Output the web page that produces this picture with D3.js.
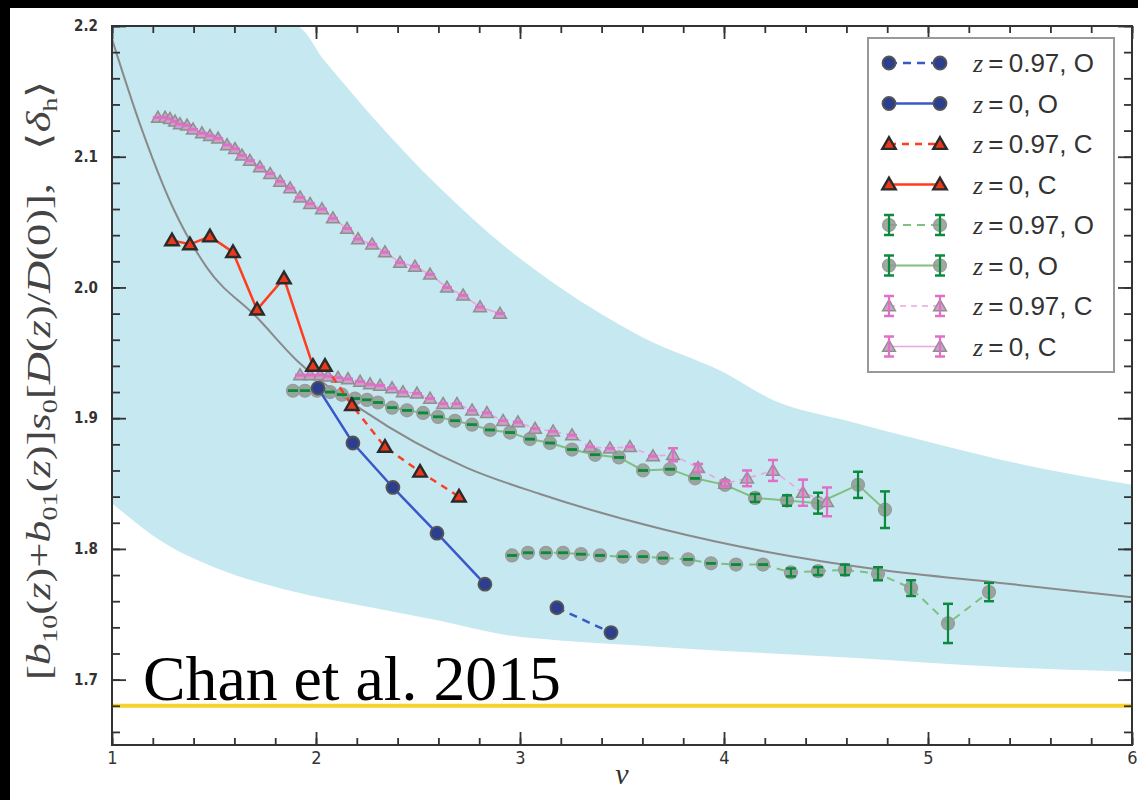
<!DOCTYPE html>
<html>
<head>
<meta charset="utf-8">
<script src="https://cdn.jsdelivr.net/npm/d3@7"></script>
<style>
  body { margin: 0; background: #fff; }
  svg { display: block; }
</style>
</head>
<body>
<svg id="chart" width="1138" height="800"></svg>
<script>
// axis ticks
const xTicks = [1, 2, 3, 4, 5, 6];
const yTicks = [1.7, 1.8, 1.9, 2.0, 2.1, 2.2];

// theory curve <delta_h>
const curveNu  = [1.0, 1.137, 1.299, 1.466, 1.711, 1.907, 2.23, 2.74, 3.098, 3.7, 4.2, 4.765, 5.353, 6.0];
const curveVal = [2.19, 2.125, 2.061, 2.015, 1.977, 1.944, 1.906, 1.862, 1.842, 1.815, 1.798, 1.784, 1.774, 1.763];

// shaded band
const bandNu = [1.0, 1.25, 1.5, 1.775, 1.9, 2.044, 2.279, 2.608, 2.936, 3.196, 3.6, 4.0, 4.24, 4.603, 5.0, 5.451, 6.0];
const bandHi = [2.2, 2.2, 2.2, 2.2, 2.2, 2.173, 2.13, 2.076, 2.03, 2.0, 1.962, 1.935, 1.914, 1.898, 1.882, 1.865, 1.849];
const bandLo = [1.835, 1.805, 1.786, 1.772, 1.767, 1.762, 1.755, 1.745, 1.734, 1.730, 1.726, 1.722, 1.720, 1.717, 1.713, 1.709, 1.706];

const deltaC = 1.68;

// z=0.97, O (blue dashed)
const nuO97 = [3.181, 3.446];
const valO97 = [1.755, 1.736];

// z=0, O (blue solid)
const nuO0 = [2.01, 2.181, 2.377, 2.593, 2.828];
const valO0 = [1.923, 1.881, 1.847, 1.812, 1.773];

// z=0.97, C (red dashed)
const nuC97 = [2.044, 2.176, 2.338, 2.51, 2.701];
const valC97 = [1.94, 1.91, 1.878, 1.859, 1.84];

// z=0, C (red solid)
const nuC0 = [1.294, 1.382, 1.48, 1.593, 1.711, 1.843, 1.985];
const valC0 = [2.036, 2.033, 2.039, 2.027, 1.983, 2.007, 1.94];

// z=0.97, O (green dashed, error bars)
const nuGO97 = [2.961, 3.039, 3.127, 3.211, 3.299, 3.392, 3.505, 3.603, 3.701, 3.824, 3.936, 4.059, 4.191, 4.328, 4.461, 4.593, 4.755, 4.917, 5.098, 5.299];
const valGO97 = [1.795, 1.797, 1.797, 1.797, 1.796, 1.795, 1.794, 1.794, 1.793, 1.792, 1.789, 1.788, 1.788, 1.782, 1.783, 1.784, 1.781, 1.77, 1.743, 1.767];
const errGO97 = [0, 0, 0, 0, 0, 0, 0, 0, 0, 0, 0, 0, 0, 0.003, 0.003, 0.004, 0.005, 0.006, 0.015, 0.007];

// z=0, O (green solid, error bars)
const nuGO0 = [1.887, 1.946, 2.005, 2.069, 2.127, 2.191, 2.25, 2.304, 2.373, 2.446, 2.525, 2.598, 2.681, 2.765, 2.853, 2.951, 3.049, 3.147, 3.255, 3.368, 3.485, 3.603, 3.735, 3.858, 4.005, 4.152, 4.309, 4.461, 4.657, 4.789];
const valGO0 = [1.921, 1.921, 1.921, 1.92, 1.918, 1.915, 1.914, 1.912, 1.908, 1.906, 1.904, 1.901, 1.898, 1.895, 1.891, 1.889, 1.884, 1.881, 1.876, 1.872, 1.87, 1.86, 1.861, 1.854, 1.849, 1.839, 1.837, 1.835, 1.849, 1.83];
const errGO0 = [0, 0, 0, 0, 0, 0, 0, 0, 0, 0, 0, 0, 0, 0, 0, 0, 0, 0, 0, 0, 0, 0, 0, 0, 0, 0.003, 0.004, 0.008, 0.01, 0.014];

// z=0.97, C (pink dashed, error bars)
const nuGC97 = [1.922, 1.971, 2.02, 2.059, 2.108, 2.157, 2.216, 2.265, 2.314, 2.373, 2.426, 2.495, 2.559, 2.623, 2.691, 2.765, 2.838, 2.917, 2.99, 3.074, 3.162, 3.255, 3.343, 3.441, 3.539, 3.652, 3.75, 3.873, 4.005, 4.113, 4.24, 4.387, 4.505];
const valGC97 = [1.933, 1.933, 1.933, 1.932, 1.931, 1.93, 1.928, 1.926, 1.925, 1.923, 1.92, 1.919, 1.915, 1.911, 1.911, 1.906, 1.904, 1.898, 1.897, 1.892, 1.89, 1.887, 1.878, 1.877, 1.878, 1.871, 1.872, 1.862, 1.85, 1.854, 1.86, 1.843, 1.836];
const errGC97 = [0, 0, 0, 0, 0, 0, 0, 0, 0, 0, 0, 0, 0, 0, 0, 0, 0, 0, 0, 0, 0, 0, 0, 0, 0, 0, 0.005, 0.003, 0.002, 0.006, 0.008, 0.01, 0.011];

// z=0, C (pink solid)
const nuGC0 = [1.225, 1.26, 1.284, 1.309, 1.333, 1.368, 1.397, 1.441, 1.48, 1.52, 1.564, 1.603, 1.637, 1.676, 1.725, 1.775, 1.824, 1.873, 1.922, 1.971, 2.029, 2.083, 2.152, 2.206, 2.275, 2.338, 2.412, 2.485, 2.559, 2.642, 2.721, 2.804, 2.902];
const valGC0 = [2.13, 2.13, 2.129, 2.127, 2.125, 2.124, 2.121, 2.118, 2.116, 2.114, 2.109, 2.106, 2.101, 2.097, 2.092, 2.087, 2.081, 2.076, 2.069, 2.064, 2.06, 2.053, 2.045, 2.037, 2.033, 2.027, 2.019, 2.016, 2.01, 2.0, 1.994, 1.985, 1.98];
const errGC0 = nuGC0.map(() => 0);

const svg = d3.select("#chart");
const W = 1138, H = 800;
const pLeft = 112, pRight = 1132, pTop = 26, pBottom = 745;

const x = d3.scaleLinear().domain([1, 6]).range([pLeft, pRight]);
const y = d3.scaleLinear().domain([1.65, 2.2]).range([pBottom, pTop]);

svg.append("rect").attr("width", W).attr("height", H).attr("fill", "#fff");
// black strips of the scanned border
svg.append("rect").attr("x", 0).attr("y", 0).attr("width", W).attr("height", 8).attr("fill", "#000");
svg.append("rect").attr("x", 0).attr("y", 0).attr("width", 10).attr("height", H).attr("fill", "#000");

svg.append("clipPath").attr("id", "plotclip")
  .append("rect").attr("x", pLeft).attr("y", pTop).attr("width", pRight - pLeft).attr("height", pBottom - pTop);

const plot = svg.append("g").attr("clip-path", "url(#plotclip)");

// band
const band = bandNu.map((n, i) => ({ n, hi: bandHi[i], lo: bandLo[i] }));
plot.append("path")
  .datum(band)
  .attr("d", d3.area().x(d => x(d.n)).y0(d => y(d.lo)).y1(d => y(d.hi)).curve(d3.curveMonotoneX))
  .attr("fill", "#c6e8f0");

// theory curve
const curve = curveNu.map((n, i) => ({ n, v: curveVal[i] }));
plot.append("path")
  .datum(curve)
  .attr("d", d3.line().x(d => x(d.n)).y(d => y(d.v)).curve(d3.curveMonotoneX))
  .attr("fill", "none")
  .attr("stroke", "#8a8a8a")
  .attr("stroke-width", 2);

// delta_c line
plot.append("line")
  .attr("x1", x(1)).attr("x2", x(6))
  .attr("y1", y(deltaC)).attr("y2", y(deltaC))
  .attr("stroke", "#f6d22a")
  .attr("stroke-width", 4);

const styles = {
  blueDash:  { line: "#3a58c8", width: 2.5, dash: "8,6", shape: "circle", fill: "#2c3f8f", stroke: "#555" },
  blueSolid: { line: "#3a58c8", width: 2.5, dash: null, shape: "circle", fill: "#2c3f8f", stroke: "#555" },
  redDash:   { line: "#ff3c1e", width: 2.5, dash: "7,6", shape: "tri", fill: "#e8391c", stroke: "#2a2a2a", size: 78 },
  redSolid:  { line: "#ff3c1e", width: 2.5, dash: null, shape: "tri", fill: "#e8391c", stroke: "#2a2a2a", size: 78 },
  greenDash: { line: "#7fc07f", width: 2, dash: "8,6", shape: "gcircle", fill: "#8d9a90", stroke: "#9a9a9a", err: "#0b8a3c" },
  greenSolid:{ line: "#7fc07f", width: 2, dash: null, shape: "gcircle", fill: "#8d9a90", stroke: "#9a9a9a", err: "#0b8a3c" },
  pinkDash:  { line: "#e9a6e0", width: 1.6, dash: "6,5", shape: "ptri", fill: "#c9a3c6", stroke: "#8f8f8f", err: "#e06fc8", size: 70 },
  pinkSolid: { line: "#e9a6e0", width: 1.6, dash: null, shape: "ptri", fill: "#c9a3c6", stroke: "#8f8f8f", err: "#e06fc8", size: 70 }
};

const layer = svg.append("g");

function drawMarker(g, cx, cy, st) {
  if (st.shape === "circle") {
    g.append("circle").attr("cx", cx).attr("cy", cy).attr("r", 6.5)
      .attr("fill", st.fill).attr("stroke", st.stroke).attr("stroke-width", 1.8);
  } else if (st.shape === "gcircle") {
    g.append("circle").attr("cx", cx).attr("cy", cy).attr("r", 6.5)
      .attr("fill", st.fill).attr("fill-opacity", 0.85)
      .attr("stroke", st.stroke).attr("stroke-width", 1.2);
  } else {
    g.append("path")
      .attr("d", d3.symbol(d3.symbolTriangle, st.size)())
      .attr("transform", `translate(${cx},${cy + 1})`)
      .attr("fill", st.fill).attr("stroke", st.stroke)
      .attr("stroke-width", st.shape === "tri" ? 2.4 : 1.5);
  }
}

function drawErr(g, cx, cy0, cy1, color) {
  g.append("line").attr("x1", cx).attr("x2", cx).attr("y1", cy0).attr("y2", cy1)
    .attr("stroke", color).attr("stroke-width", 2.2);
  [cy0, cy1].forEach(cy => {
    g.append("line").attr("x1", cx - 5).attr("x2", cx + 5).attr("y1", cy).attr("y2", cy)
      .attr("stroke", color).attr("stroke-width", 2.5);
  });
}

function drawSeries(nu, val, err, st) {
  const pts = nu.map((n, i) => ({ n, v: val[i], e: err ? err[i] : 0 }));
  const g = layer.append("g");
  g.append("path")
    .datum(pts)
    .attr("d", d3.line().x(d => x(d.n)).y(d => y(d.v)))
    .attr("fill", "none")
    .attr("stroke", st.line)
    .attr("stroke-width", st.width)
    .attr("stroke-dasharray", st.dash);
  pts.forEach(d => {
    drawMarker(g, x(d.n), y(d.v), st);
    if (st.err) drawErr(g, x(d.n), y(d.v + d.e), y(d.v - d.e), st.err);
  });
}

drawSeries(nuGC0, valGC0, errGC0, styles.pinkSolid);
drawSeries(nuGO0, valGO0, errGO0, styles.greenSolid);
drawSeries(nuGO97, valGO97, errGO97, styles.greenDash);
drawSeries(nuGC97, valGC97, errGC97, styles.pinkDash);
drawSeries(nuC0, valC0, null, styles.redSolid);
drawSeries(nuC97, valC97, null, styles.redDash);
drawSeries(nuO0, valO0, null, styles.blueSolid);
drawSeries(nuO97, valO97, null, styles.blueDash);

// axes
const tickFont = "'DejaVu Sans Condensed', 'DejaVu Sans', sans-serif";
const xMinor = d3.range(1, 6.001, 0.2);
const yMinor = d3.range(1.66, 2.2001, 0.02);

function styleAxis(g) {
  g.select(".domain").remove();
  g.selectAll(".tick line").attr("stroke", "#333").attr("stroke-width", 1.8);
  g.selectAll(".tick text").attr("fill", "#333").attr("font-family", tickFont);
}

svg.append("g").attr("transform", `translate(0,${pBottom})`)
  .call(d3.axisBottom(x).tickValues(xMinor).tickSizeInner(-7).tickSizeOuter(0).tickFormat(""))
  .call(styleAxis);
svg.append("g").attr("transform", `translate(0,${pBottom})`)
  .call(d3.axisBottom(x).tickValues(xTicks).tickSizeInner(-13).tickSizeOuter(0).tickPadding(6).tickFormat(d3.format("d")))
  .call(styleAxis)
  .selectAll("text").attr("font-size", 18);
svg.append("g").attr("transform", `translate(0,${pTop})`)
  .call(d3.axisTop(x).tickValues(xMinor).tickSizeInner(-7).tickSizeOuter(0).tickFormat(""))
  .call(styleAxis);
svg.append("g").attr("transform", `translate(0,${pTop})`)
  .call(d3.axisTop(x).tickValues(xTicks).tickSizeInner(-13).tickSizeOuter(0).tickFormat(""))
  .call(styleAxis);

svg.append("g").attr("transform", `translate(${pLeft},0)`)
  .call(d3.axisLeft(y).tickValues(yMinor).tickSizeInner(-8).tickSizeOuter(0).tickFormat(""))
  .call(styleAxis);
svg.append("g").attr("transform", `translate(${pLeft},0)`)
  .call(d3.axisLeft(y).tickValues(yTicks).tickSizeInner(-14).tickSizeOuter(0).tickPadding(14).tickFormat(d3.format(".1f")))
  .call(styleAxis)
  .selectAll("text").attr("font-size", 15).attr("font-weight", "bold");
svg.append("g").attr("transform", `translate(${pRight},0)`)
  .call(d3.axisRight(y).tickValues(yMinor).tickSizeInner(-8).tickSizeOuter(0).tickFormat(""))
  .call(styleAxis);
svg.append("g").attr("transform", `translate(${pRight},0)`)
  .call(d3.axisRight(y).tickValues(yTicks).tickSizeInner(-14).tickSizeOuter(0).tickFormat(""))
  .call(styleAxis);

// frame
svg.append("rect")
  .attr("x", pLeft).attr("y", pTop).attr("width", pRight - pLeft).attr("height", pBottom - pTop)
  .attr("fill", "none").attr("stroke", "#333").attr("stroke-width", 2);

// x label
svg.append("text")
  .attr("x", (pLeft + pRight) / 2).attr("y", 784)
  .attr("text-anchor", "middle")
  .attr("font-family", "'Liberation Serif', serif")
  .attr("font-style", "italic")
  .attr("font-size", 30)
  .attr("fill", "#333")
  .text("\u03bd");

// y label
const yl = svg.append("text")
  .attr("transform", "translate(50,380) rotate(-90)")
  .attr("text-anchor", "middle")
  .attr("font-family", "'Liberation Serif', serif")
  .attr("font-size", 33)
  .attr("fill", "#444")
  .attr("textLength", 600)
  .attr("lengthAdjust", "spacingAndGlyphs")
  .attr("xml:space", "preserve");
const ylParts = [
  ["[", null], ["b", "i"], ["10", "sub"], ["(", null], ["z", "i"], [")+", null],
  ["b", "i"], ["01", "sub"], ["(", null], ["z", "i"], [")]", null],
  ["s", "i"], ["0", "sub"], ["[", null], ["D", "i"], ["(", null], ["z", "i"], [")/", null],
  ["D", "i"], ["(0)],   \u27e8", null], ["\u03b4", "i"], ["h", "sub"], ["\u27e9", null]
];
let inSub = false;
ylParts.forEach(([t, k]) => {
  const ts = yl.append("tspan").text(t);
  if (k === "i") ts.attr("font-style", "italic");
  if (k === "sub") {
    ts.attr("font-size", 21).attr("dy", 7);
    inSub = true;
  } else if (inSub) {
    ts.attr("dy", -7);
    inSub = false;
  }
});

// annotation
svg.append("text")
  .attr("x", 143).attr("y", 700)
  .attr("font-family", "'Liberation Serif', 'Times New Roman', serif")
  .attr("font-size", 64)
  .attr("textLength", 418)
  .attr("lengthAdjust", "spacingAndGlyphs")
  .attr("fill", "#000")
  .text("Chan et al. 2015");

// legend
const legendItems = [
  { z: "0.97", t: "O", st: styles.blueDash },
  { z: "0", t: "O", st: styles.blueSolid },
  { z: "0.97", t: "C", st: styles.redDash },
  { z: "0", t: "C", st: styles.redSolid },
  { z: "0.97", t: "O", st: styles.greenDash },
  { z: "0", t: "O", st: styles.greenSolid },
  { z: "0.97", t: "C", st: styles.pinkDash },
  { z: "0", t: "C", st: styles.pinkSolid }
];

const lg = svg.append("g");
lg.append("rect")
  .attr("x", 868).attr("y", 38).attr("width", 246).attr("height", 334)
  .attr("fill", "#fff").attr("stroke", "#999").attr("stroke-width", 2);

legendItems.forEach((it, i) => {
  const cy = 63 + i * 40.5;
  const g = lg.append("g");
  g.append("line").attr("x1", 889).attr("x2", 940).attr("y1", cy).attr("y2", cy)
    .attr("stroke", it.st.line).attr("stroke-width", it.st.width)
    .attr("stroke-dasharray", it.st.dash);
  [889, 940].forEach(cx => {
    drawMarker(g, cx, cy, it.st);
    if (it.st.err) drawErr(g, cx, cy - 10, cy + 10, it.st.err);
  });
  const t = g.append("text")
    .attr("x", 973).attr("y", cy + 9)
    .attr("font-family", "'Liberation Sans', Arial, sans-serif")
    .attr("font-size", 26)
    .attr("fill", "#333");
  t.append("tspan").attr("font-family", "'Liberation Serif', serif").attr("font-style", "italic").text("z");
  t.append("tspan").text("\u2009=\u2009" + it.z + ", " + it.t);
});
</script>
</body>
</html>
